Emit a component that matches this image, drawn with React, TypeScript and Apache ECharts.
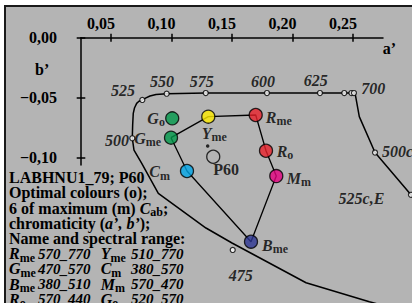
import React, { useEffect, useRef } from 'react';
import * as echarts from 'echarts';

// Spectral / optimal-colour locus (a', b')
const locusA = [0.2764, 0.2635, 0.2112, 0.1500, 0.1285, 0.0891, 0.0754, 0.0690, 0.0676, 0.0679, 0.0684, 0.0694, 0.0712, 0.0731, 0.0759, 0.0785, 0.0822, 0.0872, 0.0960, 0.1283, 0.1789, 0.2227, 0.2428, 0.2489, 0.2502, 0.2517, 0.2552, 0.2682, 0.2979, 0.3095];
const locusB = [-0.2236, -0.2200, -0.2042, -0.1711, -0.1586, -0.1297, -0.1047, -0.0936, -0.0838, -0.0728, -0.0630, -0.0586, -0.0547, -0.0530, -0.0519, -0.0503, -0.0486, -0.0474, -0.0467, -0.0461, -0.0461, -0.0461, -0.0461, -0.0461, -0.0461, -0.0461, -0.0658, -0.0957, -0.1309, -0.1444];

// Wavelength markers
const markerNames = ['475', '500', '525', '550', '575', '600', '625', '650', '675', '700', '500c', '525c,E'];
const markerA = [0.1506, 0.0676, 0.0759, 0.0960, 0.1283, 0.1789, 0.2227, 0.2428, 0.2487, 0.2508, 0.2682, 0.2979];
const markerB = [-0.1769, -0.0838, -0.0519, -0.0467, -0.0461, -0.0461, -0.0461, -0.0461, -0.0461, -0.0461, -0.0957, -0.1309];

// Colour samples
const colourNames = ['Go', 'Gme', 'Yme', 'Rme', 'Ro', 'Mm', 'Bme', 'Cm'];
const colourA = [0.1006, 0.0996, 0.1304, 0.1696, 0.1781, 0.1866, 0.1657, 0.1128];
const colourB = [-0.0672, -0.0833, -0.0658, -0.0644, -0.0942, -0.1153, -0.1700, -0.1111];
const hexagonOrder = ['Gme', 'Yme', 'Rme', 'Ro', 'Mm', 'Bme', 'Cm', 'Gme'];

// Achromatic point P60 and small dot
const p60A = [0.1345];
const p60B = [-0.0992];
const dotA = [0.1299];
const dotB = [-0.0903];

// Axis ticks
const xTicks = [0.05, 0.10, 0.15, 0.20, 0.25];
const yTicks = [0, -0.05, -0.10];

// Note text
const noteLines = [
  '{b|LABHNU1_79; P60}',
  '{b|Optimal colours (o);}',
  '{b|6 of maximum (m) }{bi|C}{s|ab}{b|;}',
  '{b|chromaticity (}{bi|a’, b’}{b|);}',
  '{b|Name and spectral range:}',
];
const rangeNames1 = [['R', 'me'], ['G', 'me'], ['B', 'me'], ['R', 'o']];
const ranges1 = ['570_770', '470_570', '380_510', '570_440'];
const rangeNames2 = [['Y', 'me'], ['C', 'm'], ['M', 'm'], ['G', 'o']];
const ranges2 = ['510_770', '380_570', '570_470', '520_570'];

const FONT = "'Liberation Serif', 'Times New Roman', serif";
const FS = 16;
const SFS = 12;
const LH = 15.2;

const fillColours: Record<string, string> = {
  Go: '#00984a', Gme: '#00984a', Yme: '#ffec00', Rme: '#e8202a', Ro: '#e8202a',
  Mm: '#e4007f', Bme: '#2c3592', Cm: '#00a6e8',
};
const colourLabels: Record<string, any> = {
  Go: { text: '{i|G}{s|o}', align: 'right', offset: [-7.3, 0] },
  Gme: { text: '{i|G}{s|me}', align: 'right', offset: [-10, 0.5] },
  Yme: { text: '{i|Y}{s|me}', align: 'left', offset: [-6.6, 16.6] },
  Rme: { text: '{i|R}{s|me}', align: 'left', offset: [10, 2.2] },
  Ro: { text: '{i|R}{s|o}', align: 'left', offset: [10.7, 0.3] },
  Mm: { text: '{i|M}{s|m}', align: 'left', offset: [10.4, 2.2] },
  Bme: { text: '{i|B}{s|me}', align: 'left', offset: [11, 3.3] },
  Cm: { text: '{i|C}{s|m}', align: 'right', offset: [-17, 0.6] },
};
const markerLabels: Record<string, any> = {
  '475': { offset: [8, 26] },
  '500': { offset: [-15.3, 2.4] },
  '525': { offset: [-19.3, -9.5] },
  '550': { offset: [-4.7, -12.7] },
  '575': { offset: [-4, -12] },
  '600': { offset: [-4, -11.8] },
  '625': { offset: [-4.3, -13] },
  '650': { show: false },
  '675': { show: false },
  '700': { offset: [19.3, -4.3] },
  '500c': { align: 'left', offset: [7, -1] },
  '525c,E': { offset: [-49.5, 3.3] },
};

const seriesRich = {
  i: { fontFamily: FONT, fontSize: FS, fontWeight: 'bold', fontStyle: 'italic', color: '#000', lineHeight: 15 },
  s: { fontFamily: FONT, fontSize: SFS, fontWeight: 'bold', color: '#000', lineHeight: 15, padding: [8, 0, 0, 0] },
};
const gRich = {
  b: { fontFamily: FONT, fontSize: FS, fontWeight: 'bold', fill: '#000', lineHeight: LH },
  bi: { fontFamily: FONT, fontSize: FS, fontWeight: 'bold', fontStyle: 'italic', fill: '#000', lineHeight: LH },
  n: { fontFamily: FONT, fontSize: 15, fontWeight: 'bold', fontStyle: 'italic', fill: '#000', lineHeight: LH },
  s: { fontFamily: FONT, fontSize: SFS, fontWeight: 'bold', fill: '#000', lineHeight: LH, padding: [8, 0, 0, 0] },
};

const fmt = (v: number) => {
  const s = Math.abs(v).toFixed(2).replace('.', ',');
  return v < -1e-9 ? '\u2212' + s : s;
};

const tickFont = { fontFamily: FONT, fontSize: FS, fontWeight: 'bold' as const, color: '#000' };

function buildOption(): any {
  const colourIndex = (n: string) => colourNames.indexOf(n);
  const rowsTop = 170 + 5 * LH;
  const colText = (x: number, text: string) => ({
    type: 'text', z: 10, x, y: rowsTop,
    style: { text, rich: gRich, align: 'left', verticalAlign: 'top', lineHeight: LH },
  });
  return {
    animation: false,
    backgroundColor: '#ffffff',
    grid: [
      { left: 0, top: 0, right: 0, bottom: 0, containLabel: false, outerBoundsMode: 'none' },
      { left: 81, top: 37.7, width: 302, height: 127.3, containLabel: false, outerBoundsMode: 'none' },
    ],
    xAxis: [
      { gridIndex: 0, type: 'value', min: -50.5 / 1210, max: (412 - 50.5) / 1210, show: false },
      {
        gridIndex: 1, type: 'value', position: 'top', min: (81 - 50.5) / 1210, max: (383 - 50.5) / 1210,
        axisLine: { show: true, onZero: false, lineStyle: { color: '#000', width: 1.5 } },
        axisTick: { show: true, customValues: xTicks, length: 4, lineStyle: { color: '#000', width: 1.5 } },
        axisLabel: { show: true, customValues: xTicks, formatter: fmt, margin: 6, padding: [0, 20, 0, 0], ...tickFont },
        splitLine: { show: false },
      },
      {
        gridIndex: 1, type: 'value', position: 'top', min: (81 - 50.5) / 1210, max: (383 - 50.5) / 1210,
        axisLine: { show: false, onZero: false },
        axisTick: { show: true, inside: true, customValues: xTicks, length: 4, lineStyle: { color: '#000', width: 1.5 } },
        axisLabel: { show: false },
        splitLine: { show: false },
      },
    ],
    yAxis: [
      { gridIndex: 0, type: 'value', min: (37.7 - 303) / 1200, max: 37.7 / 1200, show: false },
      {
        gridIndex: 1, type: 'value', position: 'left', min: (37.7 - 165) / 1200, max: 0,
        axisLine: { show: true, onZero: false, lineStyle: { color: '#000', width: 1.5 } },
        axisTick: { show: true, customValues: yTicks, length: 4.3, lineStyle: { color: '#000', width: 1.5 } },
        axisLabel: { show: true, customValues: yTicks, formatter: fmt, margin: 24, padding: [6, 0, 0, 0], showMaxLabel: true, showMinLabel: true, ...tickFont },
        splitLine: { show: false },
      },
      {
        gridIndex: 1, type: 'value', position: 'left', min: (37.7 - 165) / 1200, max: 0,
        axisLine: { show: false, onZero: false },
        axisTick: { show: true, inside: true, customValues: yTicks, length: 4.3, lineStyle: { color: '#000', width: 1.5 } },
        axisLabel: { show: false },
        splitLine: { show: false },
      },
    ],
    graphic: [
      { type: 'rect', z: -10, silent: true, shape: { x: 4, y: 5, width: 420, height: 310 }, style: { fill: '#1a1a1a' } },
      { type: 'rect', z: -9, silent: true, shape: { x: 6, y: 7, width: 420, height: 310 }, style: { fill: '#b4b4b4' } },
      { type: 'text', z: 10, x: 382.7, y: 48.4, style: { text: 'a’', fontFamily: FONT, fontSize: FS, fontWeight: 'bold', fill: '#000', align: 'left', verticalAlign: 'middle' } },
      { type: 'text', z: 10, x: 35, y: 69, style: { text: 'b’', fontFamily: FONT, fontSize: FS, fontWeight: 'bold', fill: '#000', align: 'left', verticalAlign: 'middle' } },
      { type: 'text', z: 10, x: 9, y: 170, style: { text: noteLines.join('\n'), rich: gRich, align: 'left', verticalAlign: 'top', fontFamily: FONT, fontSize: FS, fontWeight: 'bold', fill: '#000', lineHeight: LH } },
      colText(9, rangeNames1.map((p) => `{bi|${p[0]}}{s|${p[1]}}`).join('\n')),
      colText(38, ranges1.map((r) => `{n|${r}}`).join('\n')),
      colText(100.7, rangeNames2.map((p) => `{bi|${p[0]}}{s|${p[1]}}`).join('\n')),
      colText(131, ranges2.map((r) => `{n|${r}}`).join('\n')),
    ],
    series: [
      {
        name: 'locus', type: 'line', xAxisIndex: 0, yAxisIndex: 0, z: 2, silent: true,
        data: locusA.map((a, i) => [a, locusB[i]]), symbol: 'none', smooth: false,
        lineStyle: { color: '#000', width: 1.5 },
      },
      {
        name: 'hexagon', type: 'line', xAxisIndex: 0, yAxisIndex: 0, z: 3, silent: true,
        data: hexagonOrder.map((n) => [colourA[colourIndex(n)], colourB[colourIndex(n)]]), symbol: 'none',
        lineStyle: { color: '#000', width: 1.3 },
      },
      {
        name: 'markers', type: 'scatter', xAxisIndex: 0, yAxisIndex: 0, z: 4, silent: true,
        symbol: 'circle', symbolSize: 5,
        itemStyle: { color: '#fff', borderColor: '#000', borderWidth: 1.2 },
        label: { show: true, position: 'inside', fontFamily: FONT, fontSize: FS, fontWeight: 'bold', fontStyle: 'italic', color: '#000' },
        data: markerNames.map((n, i) => ({
          value: [markerA[i], markerB[i]],
          label: { formatter: n, ...markerLabels[n] },
        })),
      },
      {
        name: 'colours', type: 'scatter', xAxisIndex: 0, yAxisIndex: 0, z: 5, silent: true,
        symbol: 'circle', symbolSize: 13,
        label: { show: true, position: 'inside', rich: seriesRich },
        data: colourNames.map((n, i) => ({
          value: [colourA[i], colourB[i]],
          itemStyle: { color: fillColours[n], borderColor: '#000', borderWidth: 1.3 },
          label: { formatter: colourLabels[n].text, align: colourLabels[n].align, offset: colourLabels[n].offset },
        })),
      },
      {
        name: 'P60', type: 'scatter', xAxisIndex: 0, yAxisIndex: 0, z: 5, silent: true,
        symbol: 'circle', symbolSize: 13,
        itemStyle: { color: 'rgba(0,0,0,0)', borderColor: '#000', borderWidth: 1.3 },
        label: { show: true, position: 'inside', formatter: 'P60', align: 'left', offset: [0, 12.3], fontFamily: FONT, fontSize: FS, fontWeight: 'bold', color: '#000' },
        data: p60A.map((a, i) => [a, p60B[i]]),
      },
      {
        name: 'dot', type: 'scatter', xAxisIndex: 0, yAxisIndex: 0, z: 5, silent: true,
        symbol: 'circle', symbolSize: 3.5, itemStyle: { color: '#000' },
        data: dotA.map((a, i) => [a, dotB[i]]),
      },
    ],
  };
}

export default function App() {
  const ref = useRef<HTMLDivElement>(null);
  useEffect(() => {
    if (!ref.current) return;
    const chart = echarts.init(ref.current, null, { renderer: 'svg' });
    chart.setOption(buildOption());
    return () => chart.dispose();
  }, []);
  return <div ref={ref} style={{ position: 'fixed', left: 0, top: 0, width: 412, height: 303 }} />;
}
